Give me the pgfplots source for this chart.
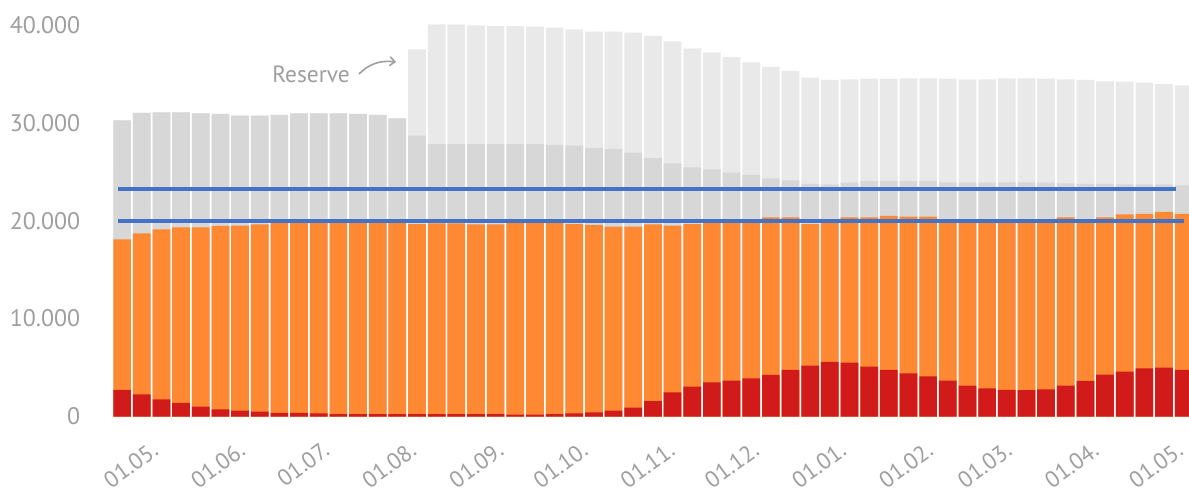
\documentclass[border=0pt]{standalone}
\usepackage{pgfplots}
\pgfplotsset{compat=1.18}
\usepackage{pgfplotstable}
\usepackage{fontspec}
\setmainfont{PT Sans}
\usetikzlibrary{arrows.meta}
\definecolor{cred}{RGB}{209,26,26}
\definecolor{corange}{RGB}{255,136,51}
\definecolor{cdark}{RGB}{215,215,215}
\definecolor{clight}{RGB}{233,233,233}
\definecolor{cblue}{RGB}{68,114,196}
\definecolor{ctext}{RGB}{158,158,158}

\pgfplotstableread{
i red orange dark top
0 2710 18100 30250 30250
1 2270 18710 31000 31000
2 1760 19120 31070 31070
3 1380 19320 31070 31070
4 1000 19320 30970 30970
5 730 19460 30900 30900
6 600 19490 30720 30720
7 490 19630 30720 30720
8 360 19800 30800 30800
9 360 19800 30970 30970
10 330 19820 30970 30970
11 250 19900 30970 30970
12 250 20100 30900 30900
13 250 20000 30800 30800
14 250 19800 30460 30460
15 250 19660 28680 37500
16 250 19730 27830 40060
17 250 19730 27830 40060
18 250 19630 27830 39960
19 250 19630 27830 39900
20 200 19800 27830 39860
21 200 19800 27830 39830
22 250 19800 27730 39720
23 330 19660 27660 39550
24 430 19560 27400 39300
25 600 19390 27300 39300
26 900 19390 26950 39200
27 1580 19630 26400 38870
28 2470 19500 25860 38320
29 3040 19660 25450 37600
30 3490 19800 25250 37200
31 3660 19800 24900 36700
32 3900 19800 24670 36180
33 4240 20350 24330 35700
34 4750 20350 24130 35300
35 5190 19660 23750 34600
36 5570 19900 23720 34370
37 5500 20350 23880 34440
38 5090 20350 24050 34500
39 4750 20480 24050 34500
40 4410 20420 24050 34540
41 4100 20420 24050 34540
42 3660 19900 23920 34500
43 3150 19900 23880 34400
44 2880 19900 23880 34440
45 2710 19900 23920 34540
46 2690 19900 23920 34540
47 2780 19900 23880 34500
48 3150 20350 23820 34440
49 3630 19900 23750 34370
50 4270 20350 23750 34240
51 4580 20650 23720 34200
52 4920 20700 23720 34100
53 5000 20890 23720 33960
54 4750 20700 23600 33830
}\data

\begin{document}
\begin{tikzpicture}
\begin{axis}[
  scale only axis,
  width=1077.7bp, height=416.1bp,
  xmin=-0.55, xmax=54.27, ymin=0, ymax=42500,
  axis line style={draw=none},
  major tick length=0pt,
  tick style={draw=none},
  xtick={1.42,5.849,10.134,14.563,18.991,23.277,27.706,31.991,36.420,40.849,44.849,49.277,53.563},
  xticklabels={01.05.,01.06.,01.07.,01.08.,01.09.,01.10.,01.11.,01.12.,01.01.,01.02.,01.03.,01.04.,01.05.},
  xticklabel style={xshift=0bp, yshift=-24bp, rotate=36, anchor=north east, inner sep=0pt, text=ctext,
    font=\fontsize{23}{23}\selectfont},
  ytick={0,10000,20000,30000,40000},
  yticklabels={0,10.000,20.000,30.000,40.000},
  yticklabel style={anchor=east, inner sep=0pt, text=ctext,
    font=\fontsize{24}{24}\selectfont, xshift=-31bp},
]
\addplot[ybar, bar width=0.9, bar shift=0pt, fill=clight, draw=none] table[x=i,y=top]{\data};
\addplot[ybar, bar width=0.9, bar shift=0pt, fill=cdark, draw=none] table[x=i,y=dark]{\data};
\addplot[ybar, bar width=0.9, bar shift=0pt, fill=corange, draw=none] table[x=i,y=orange]{\data};
\addplot[ybar, bar width=0.9, bar shift=0pt, fill=cred, draw=none] table[x=i,y=red]{\data};
\addplot[cblue, line width=3.8bp] coordinates {(-0.19,23200) (53.62,23200)};
\addplot[cblue, line width=3.8bp] coordinates {(-0.19,20000) (54.01,20000)};
\end{axis}
\node[text=ctext, font=\fontsize{23.5}{23.5}\selectfont, inner sep=0pt] at (199.7bp,342bp) {Reserve};
\draw[ctext, line width=1.6bp, -{Straight Barb[length=5bp,width=9bp]}]
  (247.7bp,342.5bp) .. controls (257.7bp,352.5bp) and (268.7bp,356.5bp) .. (284.7bp,354.5bp);
\pgfresetboundingbox
\path[use as bounding box] (-111.3bp,-73.5bp) rectangle (1077.7bp,416.5bp);
\end{tikzpicture}
\end{document}
